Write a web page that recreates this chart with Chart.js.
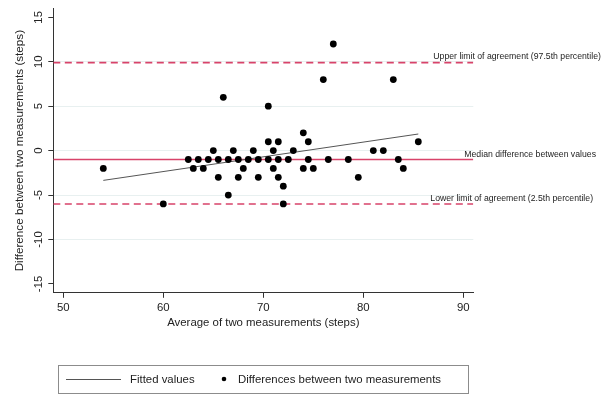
<!DOCTYPE html>
<html>
<head>
<meta charset="utf-8">
<script src="https://cdn.jsdelivr.net/npm/chart.js@4.4.1/dist/chart.umd.min.js"></script>
<style>
  html, body { margin: 0; padding: 0; background: #ffffff; }
  #wrap { width: 603px; height: 412px; }
</style>
</head>
<body>
<div id="wrap"><canvas id="c" width="603" height="412"></canvas></div>
<script>
// Bland-Altman data: average and difference of two step measurements
const averages = [54, 60, 62.5, 63, 63.5, 64, 64.5, 65, 65.5, 65.5,
  66, 66.5, 66.5, 67, 67.5, 67.5, 68, 68.5, 69, 69.5,
  69.5, 70.5, 70.5, 70.5, 71, 71, 71.5, 71.5, 71.5, 72,
  72, 72.5, 73, 74, 74, 74.5, 74.5, 75, 76, 76.5,
  77, 78.5, 79.5, 81, 82, 83, 83.5, 84, 85.5];
const differences = [-2, -6, -1, -2, -1, -2, -1, 0, -1, -3,
  6, -1, -5, 0, -1, -3, -2, -1, 0, -1,
  -3, 5, 1, -1, 0, -2, 1, -1, -3, -4,
  -6, -1, 0, 2, -2, 1, -1, -2, 8, -1,
  12, -1, -3, 0, 0, 8, -1, -2, 1];

// Fitted regression line end points
const fitX = [54, 85.5];
const fitY = [-3.35, 1.87];

// Reference lines: upper limit, median, lower limit
const refValues = [9.9, -1, -6];
const refNames = [
  'Upper limit of agreement (97.5th percentile)',
  'Median difference between values',
  'Lower limit of agreement (2.5th percentile)'
];

const xTicks = [50, 60, 70, 80, 90];
const yTicks = [-15, -10, -5, 0, 5, 10, 15];

const X_MIN = 49, X_MAX = 91, Y_MIN = -16, Y_MAX = 16;
const RED = '#d8436a';
const FONT = 'Liberation Sans, Arial, Helvetica, sans-serif';

// where each reference line caption sits (data units)
const refLabelPos = [
  { x: 87.0, y: 10.6 },
  { x: 90.1, y: -0.45 },
  { x: 86.7, y: -5.4 }
];

const points = averages.map((a, i) => ({ x: a, y: differences[i] }));
const fitted = fitX.map((x, i) => ({ x: x, y: fitY[i] }));
const refLine = v => [{ x: X_MIN, y: v }, { x: X_MAX, y: v }];

const captions = {
  id: 'captions',
  afterDatasetsDraw(chart) {
    const ctx = chart.ctx;
    const xs = chart.scales.x, ys = chart.scales.y;
    ctx.save();
    ctx.fillStyle = '#222';
    ctx.font = '8.7px ' + FONT;
    ctx.textAlign = 'left';
    ctx.textBaseline = 'middle';
    refNames.forEach((t, i) => {
      ctx.fillText(t, xs.getPixelForValue(refLabelPos[i].x), ys.getPixelForValue(refLabelPos[i].y));
    });
    ctx.restore();
  }
};

const boxLegend = {
  id: 'boxLegend',
  afterDraw(chart) {
    const ctx = chart.ctx;
    const fit = chart.data.datasets[1];
    const dots = chart.data.datasets[0];
    ctx.save();
    ctx.strokeStyle = '#8c8c8c';
    ctx.lineWidth = 1;
    ctx.strokeRect(58.5, 365.5, 410, 28);
    ctx.strokeStyle = '#555';
    ctx.lineWidth = 1;
    ctx.beginPath();
    ctx.moveTo(66, 379.5);
    ctx.lineTo(121, 379.5);
    ctx.stroke();
    ctx.fillStyle = '#000';
    ctx.beginPath();
    ctx.arc(224, 379, 2.3, 0, Math.PI * 2);
    ctx.fill();
    ctx.fillStyle = '#222';
    ctx.font = '11.4px ' + FONT;
    ctx.textBaseline = 'middle';
    ctx.textAlign = 'left';
    ctx.fillText(fit.label, 130, 380);
    ctx.fillText(dots.label, 238, 380);
    ctx.restore();
  }
};

new Chart(document.getElementById('c'), {
  type: 'scatter',
  data: {
    datasets: [
      {
        label: 'Differences between two measurements',
        data: points,
        backgroundColor: '#000',
        borderWidth: 0,
        pointRadius: 3.4,
        order: 0
      },
      {
        label: 'Fitted values',
        data: fitted,
        showLine: true,
        borderColor: '#555',
        borderWidth: 1,
        pointRadius: 0,
        order: 1
      },
      {
        label: 'upper',
        data: refLine(refValues[0]),
        showLine: true,
        borderColor: RED,
        borderWidth: 1.6,
        borderDash: [7, 4.5],
        pointRadius: 0,
        order: 2
      },
      {
        label: 'median',
        data: refLine(refValues[1]),
        showLine: true,
        borderColor: RED,
        borderWidth: 1.4,
        pointRadius: 0,
        order: 2
      },
      {
        label: 'lower',
        data: refLine(refValues[2]),
        showLine: true,
        borderColor: RED,
        borderWidth: 1.6,
        borderDash: [7, 4.5],
        pointRadius: 0,
        order: 2
      }
    ]
  },
  options: {
    responsive: false,
    animation: false,
    devicePixelRatio: 1,
    layout: { padding: { left: 0, right: 129.7, top: 8.4, bottom: 80 } },
    plugins: { legend: { display: false }, tooltip: { enabled: false } },
    scales: {
      x: {
        type: 'linear',
        min: X_MIN, max: X_MAX,
        afterBuildTicks: s => { s.ticks = xTicks.map(v => ({ value: v })); },
        afterFit: s => { s.height = 39.2; },
        grid: { drawOnChartArea: false, tickColor: '#333', tickLength: 5, tickWidth: 1 },
        border: { display: true, color: '#333', width: 1 },
        ticks: { color: '#222', font: { family: FONT, size: 11.4 }, padding: 3, maxRotation: 0, autoSkip: false },
        title: { display: true, text: 'Average of two measurements (steps)', color: '#222',
                 font: { family: FONT, size: 11.4 }, padding: { top: 0, bottom: 2 } }
      },
      y: {
        type: 'linear',
        min: Y_MIN, max: Y_MAX,
        afterBuildTicks: s => { s.ticks = yTicks.map(v => ({ value: v })); },
        afterFit: s => { s.width = 53.3; },
        grid: {
          color: c => (Math.abs(c.tick.value) > 10 ? 'rgba(0,0,0,0)' : '#e8f0f0'),
          tickColor: '#333', tickLength: 5, tickWidth: 1, lineWidth: 1
        },
        border: { display: true, color: '#333', width: 1 },
        ticks: { color: '#222', font: { family: FONT, size: 11.4 }, padding: 1.6,
                 minRotation: 90, maxRotation: 90, crossAlign: 'center', autoSkip: false },
        title: { display: true, text: 'Difference between two measurements (steps)', color: '#222',
                 font: { family: FONT, size: 11.7 }, padding: { top: 13, bottom: 0 } }
      }
    }
  },
  plugins: [captions, boxLegend]
});
</script>
</body>
</html>
